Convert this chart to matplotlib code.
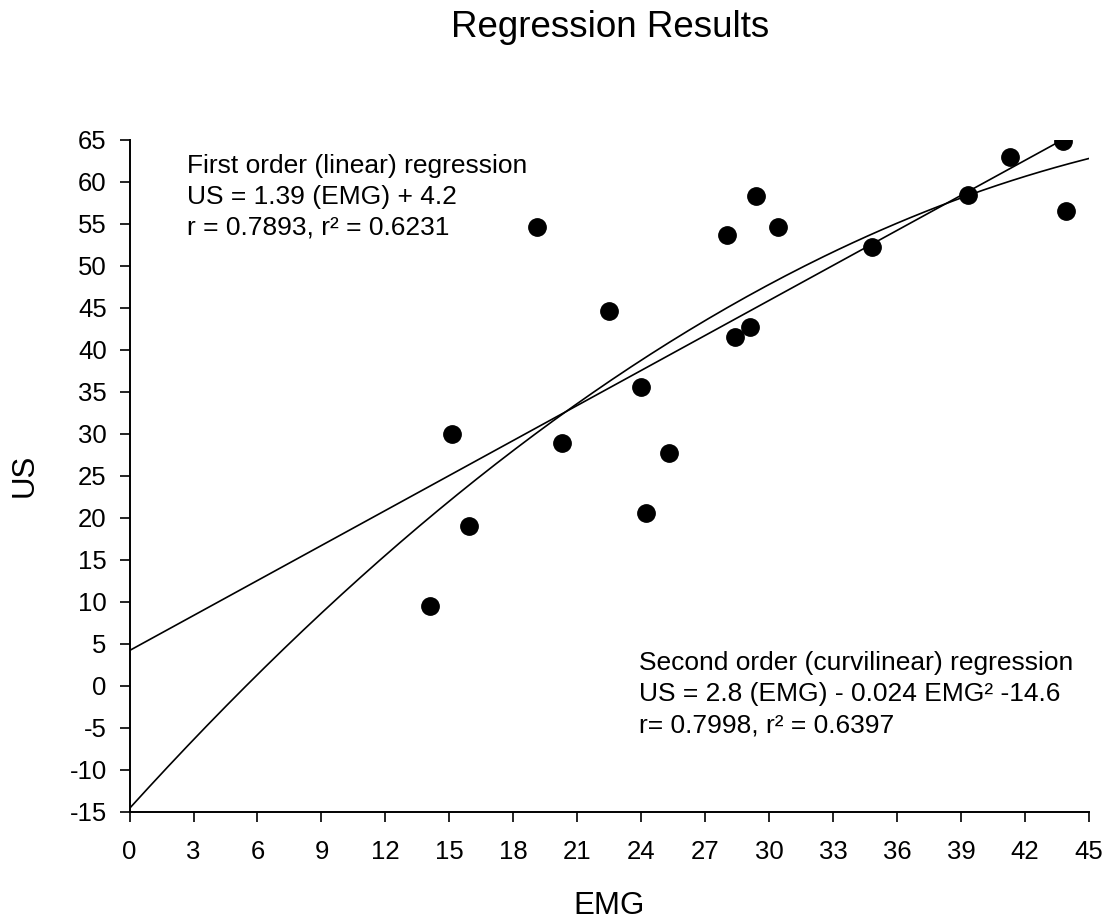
import numpy as np
import matplotlib
matplotlib.use("Agg")
import matplotlib.pyplot as plt

plt.rcParams['font.family'] = ['Liberation Sans', 'DejaVu Sans']
plt.rcParams['axes.unicode_minus'] = False

# data
emg = [14.1, 15.1, 15.9, 19.1, 20.3, 22.5, 24.0, 24.2, 25.3, 28.0, 28.4,
       29.1, 29.4, 30.4, 34.8, 39.3, 41.3, 43.8, 43.9]
us = [9.5, 30.0, 19.0, 54.6, 28.9, 44.6, 35.6, 20.6, 27.7, 53.7, 41.5,
      42.7, 58.3, 54.6, 52.2, 58.4, 63.0, 64.9, 56.6]

# regression coefficients printed on the chart
lin_coef = [1.39, 4.2]            # slope, intercept
quad_coef = [-0.024, 2.8, -14.6]  # x^2, x, const

x_ticks = list(range(0, 46, 3))
y_ticks = list(range(-15, 66, 5))

fig = plt.figure(figsize=(11.14, 9.24), dpi=100)
ax = fig.add_axes([0.1163, 0.1215, 0.8613, 0.727])

xl = np.linspace(0, max(emg), 200)
ax.plot(xl, np.polyval(lin_coef, xl), color='black', lw=1.2)
xq = np.linspace(0, 45, 200)
ax.plot(xq, np.polyval(quad_coef, xq), color='black', lw=1.2)
ax.plot(emg, us, 'o', color='black', markersize=12.5, zorder=3)

ax.set_xlim(0, 45)
ax.set_ylim(-15, 65)
ax.set_xticks(x_ticks)
ax.set_yticks(y_ticks)
ax.spines['top'].set_visible(False)
ax.spines['right'].set_visible(False)
for s in ['left', 'bottom']:
    ax.spines[s].set_linewidth(1.4)
ax.tick_params(axis='both', direction='out', length=7.5, width=1.2, labelsize=18.5)
ax.tick_params(axis='x', pad=13)
ax.tick_params(axis='y', pad=9)

ax.set_xlabel('EMG', fontsize=22.5)
ax.xaxis.set_label_coords(0.5, -0.118)
ax.set_ylabel('US', fontsize=22.5)
ax.yaxis.set_label_coords(-0.094, 0.5)
fig.text(0.5476, 1 - 37 / 924, 'Regression Results', fontsize=26.5,
         ha='center', va='baseline')

ax.text(2.68, 63.3, 'First order (linear) regression\nUS = 1.39 (EMG) + 4.2\n'
        'r = 0.7893, r² = 0.6231', fontsize=19, va='top', ha='left',
        linespacing=1.36)
ax.text(23.87, 4.1, 'Second order (curvilinear) regression\n'
        'US = 2.8 (EMG) - 0.024 EMG² -14.6\n'
        'r= 0.7998, r² = 0.6397', fontsize=19, va='top', ha='left',
        linespacing=1.36)

fig.savefig('out.png', dpi=100, facecolor='white')
